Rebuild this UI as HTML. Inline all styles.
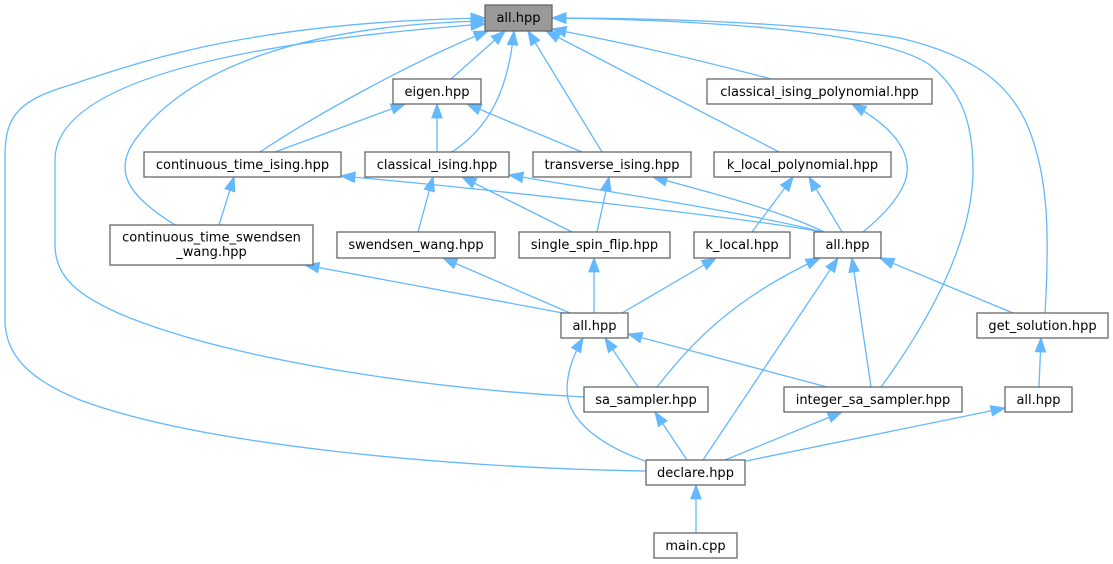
<!DOCTYPE html>
<html><head><meta charset="utf-8"><style>
html,body{margin:0;padding:0;background:#fff;}
svg{display:block;}
text{font-family:"DejaVu Sans","Liberation Sans",sans-serif;font-size:13px;fill:#000;text-anchor:middle;}
.e{fill:none;stroke:#63b8ff;stroke-width:1.3;}
.n{fill:#fff;stroke:#666;stroke-width:1.3;}
</style></head><body>
<svg width="1113" height="564" viewBox="0 0 1113 564" xmlns="http://www.w3.org/2000/svg">
<defs>
<marker id="a" markerUnits="userSpaceOnUse" markerWidth="16" markerHeight="14" viewBox="-1 -1 15 12" refX="13" refY="4.8" orient="auto" overflow="visible">
<path d="M0,0 L13,4.8 L0,9.6 Z" fill="#63b8ff" stroke="#63b8ff" stroke-width="1"/>
</marker>
</defs>
<g class="e" marker-end="url(#a)">
<path d="M451,79 L505,31"/>
<path d="M260,152 C320,112 420,58 488,31"/>
<path d="M452,152 C490,127 508,90 514,31"/>
<path d="M602,152 L528,31"/>
<path d="M771,79 C700,60 620,42 552,29"/>
<path d="M779,152 L546,31"/>
<path d="M175,225 C135,200 110,175 135,140 C185,70 300,25 485,21"/>
<path d="M584,397 C450,390 250,365 130,318 C75,296 55,275 55,245 L55,160 C55,90 200,45 485,24"/>
<path d="M646,471 C450,468 200,445 80,400 C30,380 5,355 5,320 L5,155 C5,115 20,100 70,85 C140,62 250,22 485,18"/>
<path d="M881,387 C930,320 973,240 973,170 C973,120 960,90 930,65 C880,30 700,20 552,18"/>
<path d="M1045,313 C1050,230 1048,170 1025,120 C1005,80 970,55 900,38 C800,22 650,18 552,18"/>
<path d="M275,152 L405,104"/>
<path d="M437,152 L437,104"/>
<path d="M582,152 L467,104"/>
<path d="M219,225 L234,177"/>
<path d="M418,232 L433,177"/>
<path d="M822,232 C760,220 500,190 341,176"/>
<path d="M822,232 C760,215 600,190 509,175"/>
<path d="M824,232 C780,210 700,190 653,177"/>
<path d="M572,232 L462,177"/>
<path d="M597,232 L609,177"/>
<path d="M752,232 L793,177"/>
<path d="M842,232 L809,177"/>
<path d="M863,232 C890,210 910,185 907,165 C905,140 880,120 852,104"/>
<path d="M563,313 L305,265"/>
<path d="M570,313 L443,258"/>
<path d="M594,313 L594,258"/>
<path d="M622,313 L716,258"/>
<path d="M657,387 C690,345 730,300 820,258"/>
<path d="M703,460 L838,258"/>
<path d="M871,387 L852,258"/>
<path d="M1013,313 L880,258"/>
<path d="M638,387 L605,338"/>
<path d="M827,387 L628,334"/>
<path d="M645,461 C600,445 567,420 567,390 C567,370 575,352 583,338"/>
<path d="M687,460 L655,412"/>
<path d="M725,460 L842,412"/>
<path d="M746,461 L1005,408"/>
<path d="M1039,387 L1041,338"/>
<path d="M696,533 L696,485"/>
</g>
<g>
<rect x="485" y="5" width="67" height="26" fill="#999999" stroke="#666" stroke-width="1.3"/>
<text x="518.5" y="22">all.hpp</text>

<rect class="n" x="393" y="79" width="88" height="25"/>
<text x="437" y="96">eigen.hpp</text>

<rect class="n" x="707" y="79" width="225" height="25"/>
<text x="819.5" y="96">classical_ising_polynomial.hpp</text>

<rect class="n" x="144" y="152" width="197" height="25"/>
<text x="242.5" y="169">continuous_time_ising.hpp</text>

<rect class="n" x="365" y="152" width="144" height="25"/>
<text x="437" y="169">classical_ising.hpp</text>

<rect class="n" x="533" y="152" width="158" height="25"/>
<text x="612" y="169">transverse_ising.hpp</text>

<rect class="n" x="714" y="152" width="177" height="25"/>
<text x="802.5" y="169">k_local_polynomial.hpp</text>

<rect class="n" x="110" y="225" width="203" height="40"/>
<text x="211.5" y="241.5">continuous_time_swendsen</text>
<text x="211.5" y="256">_wang.hpp</text>

<rect class="n" x="337" y="232" width="158" height="26"/>
<text x="416" y="249">swendsen_wang.hpp</text>

<rect class="n" x="519" y="232" width="151" height="26"/>
<text x="594.5" y="249">single_spin_flip.hpp</text>

<rect class="n" x="694" y="232" width="96" height="26"/>
<text x="742" y="249">k_local.hpp</text>

<rect class="n" x="814" y="232" width="67" height="26"/>
<text x="847.5" y="249">all.hpp</text>

<rect class="n" x="561" y="313" width="67" height="25"/>
<text x="594.5" y="330">all.hpp</text>

<rect class="n" x="977" y="313" width="131" height="25"/>
<text x="1042.5" y="330">get_solution.hpp</text>

<rect class="n" x="584" y="387" width="124" height="25"/>
<text x="646" y="404">sa_sampler.hpp</text>

<rect class="n" x="784" y="387" width="178" height="25"/>
<text x="873" y="404">integer_sa_sampler.hpp</text>

<rect class="n" x="1005" y="387" width="67" height="25"/>
<text x="1038.5" y="404">all.hpp</text>

<rect class="n" x="646" y="460" width="99" height="25"/>
<text x="695.5" y="477">declare.hpp</text>

<rect class="n" x="654" y="533" width="83" height="25"/>
<text x="695.5" y="550">main.cpp</text>
</g>
</svg>
</body></html>
